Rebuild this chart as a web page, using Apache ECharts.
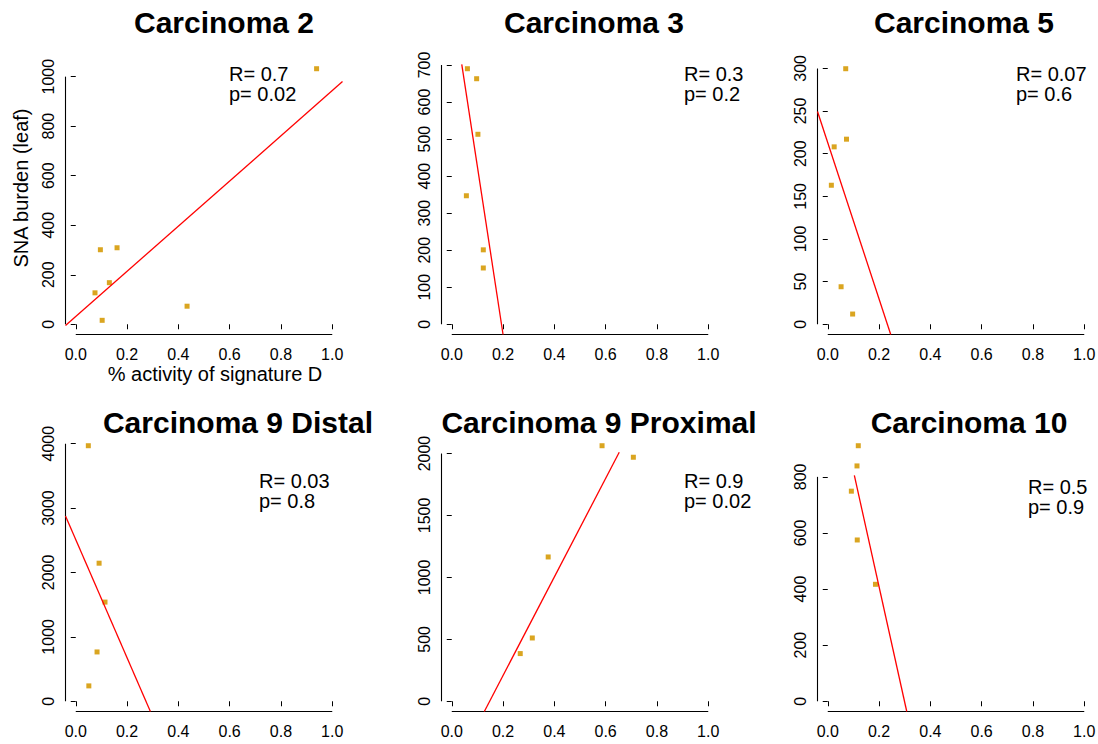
<!DOCTYPE html>
<html>
<head>
<meta charset="utf-8">
<script src="https://cdn.jsdelivr.net/npm/echarts@6/dist/echarts.min.js"></script>
<style>
  html, body { margin: 0; padding: 0; background: #fff; }
  #chart { width: 1098px; height: 744px; }
</style>
</head>
<body>
<div id="chart"></div>
<script>
// ---------------- data ----------------
const panelTitles = ['Carcinoma 2', 'Carcinoma 3', 'Carcinoma 5',
                     'Carcinoma 9 Distal', 'Carcinoma 9 Proximal', 'Carcinoma 10'];

// % activity of signature D (x) and SNA burden (leaf) (y) per sample
const carc2Activity = [0.939, 0.096, 0.161, 0.131, 0.075, 0.103, 0.434];
const carc2Burden   = [1032, 301, 309, 168, 127, 16, 73];

const carc3Activity = [0.061, 0.097, 0.102, 0.057, 0.123, 0.123];
const carc3Burden   = [690, 663, 513, 347, 201, 152];

const carc5Activity = [0.070, 0.073, 0.025, 0.014, 0.052, 0.097];
const carc5Burden   = [299.6, 217, 208, 163, 44, 12];

const carc9dActivity = [0.049, 0.091, 0.114, 0.083, 0.051];
const carc9dBurden   = [3968, 2144, 1540, 766, 239];

const carc9pActivity = [0.586, 0.708, 0.376, 0.314, 0.267];
const carc9pBurden   = [2063, 1970, 1165, 511, 385];

const carc10Activity = [0.119, 0.114, 0.092, 0.115, 0.186];
const carc10Burden   = [911, 839, 749, 575, 417];

// fitted lines: two end points [activity, burden] each, as drawn
const fitLines = [
  [[-0.04, -5],   [1.04, 980]],
  [[0.039, 702],  [0.2, -27.6]],
  [[-0.04, 249.5],[0.2455, -12]],
  [[-0.04, 2876], [0.291, -158.6]],
  [[0.127, -82.4],[0.653, 2010]],
  [[0.1037, 805], [0.308, -36.4]]
];

const corrR = ['0.7', '0.3', '0.07', '0.03', '0.9', '0.5'];
const corrP = ['0.02', '0.2', '0.6', '0.8', '0.02', '0.9'];

const xTickValues = [0, 0.2, 0.4, 0.6, 0.8, 1.0];
const yTickValues = [
  [0, 200, 400, 600, 800, 1000],
  [0, 100, 200, 300, 400, 500, 600, 700],
  [0, 50, 100, 150, 200, 250, 300],
  [0, 1000, 2000, 3000, 4000],
  [0, 500, 1000, 1500, 2000],
  [0, 200, 400, 600, 800]
];

const xAxisTitle = '% activity of signature D';
const yAxisTitle = 'SNA burden (leaf)';

// ---------------- layout / style ----------------
const FONT = '"Liberation Sans", Arial, Helvetica, sans-serif';
const colLeft = [65.5, 441.5, 817.5];
const rowTop = [58.5, 435.5];
const plotW = 277, plotH = 276;
const titleCenterX = [224, 594, 964, 238, 599, 969];
const titleCenterY = [22, 422];
const statPos = [[229, 74], [684, 74], [1016, 74], [259, 481], [684, 481], [1028, 487]];
const POINT_COLOR = '#DAA520';

const panelXs = [carc2Activity, carc3Activity, carc5Activity, carc9dActivity, carc9pActivity, carc10Activity];
const panelYs = [carc2Burden, carc3Burden, carc5Burden, carc9dBurden, carc9pBurden, carc10Burden];

const grids = [], xAxes = [], yAxes = [], series = [], graphics = [];

panelTitles.forEach((title, i) => {
  const col = i % 3, row = Math.floor(i / 3);
  const xs = panelXs[i], ys = panelYs[i];
  const yMaxData = Math.max(...ys);
  const yLo = -0.04 * yMaxData, yHi = 1.04 * yMaxData;
  const xLo = -0.04, xHi = 1.04;
  const yt = yTickValues[i];

  grids.push({ left: colLeft[col], top: rowTop[row], width: plotW, height: plotH,
               outerBoundsMode: 'none', containLabel: false });

  xAxes.push({
    gridIndex: i, type: 'value', min: xLo, max: xHi,
    axisLine: { show: false },
    splitLine: { show: false },
    axisTick: { show: true, length: 5, customValues: xTickValues,
                lineStyle: { color: '#000', width: 1 } },
    axisLabel: { customValues: xTickValues, formatter: v => v.toFixed(1),
                 fontSize: 16, color: '#000', fontFamily: FONT, margin: 12 }
  });

  yAxes.push({
    gridIndex: i, type: 'value', min: yLo, max: yHi,
    axisLine: { show: false },
    splitLine: { show: false },
    axisTick: { show: true, length: 5, customValues: yt,
                lineStyle: { color: '#000', width: 1 } },
    axisLabel: { customValues: yt, formatter: v => String(v), rotate: 90,
                 fontSize: 16, color: '#000', fontFamily: FONT, margin: 9.5 }
  });

  // axis lines spanning first to last tick (R style)
  series.push({
    type: 'line', xAxisIndex: i, yAxisIndex: i, silent: true, clip: false,
    symbol: 'none', lineStyle: { color: '#000', width: 1.1 },
    data: [[xTickValues[0], yLo], [xTickValues[xTickValues.length - 1], yLo]]
  });
  series.push({
    type: 'line', xAxisIndex: i, yAxisIndex: i, silent: true, clip: false,
    symbol: 'none', lineStyle: { color: '#000', width: 1.1 },
    data: [[xLo, yt[0]], [xLo, yt[yt.length - 1]]]
  });

  // fitted line
  series.push({
    type: 'line', xAxisIndex: i, yAxisIndex: i, silent: true, clip: true,
    symbol: 'none', lineStyle: { color: '#FF0000', width: 1.3 },
    data: fitLines[i]
  });

  // points
  series.push({
    type: 'scatter', xAxisIndex: i, yAxisIndex: i, silent: true,
    symbol: 'rect', symbolSize: 5,
    itemStyle: { color: POINT_COLOR, opacity: 1 },
    data: xs.map((x, k) => [x, ys[k]])
  });

  // panel title
  graphics.push({
    type: 'text', x: titleCenterX[i], y: titleCenterY[row],
    style: { text: title, fill: '#000', fontSize: 30, fontWeight: 'bold',
             fontFamily: FONT, textAlign: 'center', textVerticalAlign: 'middle' }
  });

  // R / p annotation
  graphics.push({
    type: 'text', x: statPos[i][0], y: statPos[i][1],
    style: { text: 'R= ' + corrR[i], fill: '#000', fontSize: 20, fontFamily: FONT,
             textAlign: 'left', textVerticalAlign: 'middle' }
  });
  graphics.push({
    type: 'text', x: statPos[i][0], y: statPos[i][1] + 20,
    style: { text: 'p= ' + corrP[i], fill: '#000', fontSize: 20, fontFamily: FONT,
             textAlign: 'left', textVerticalAlign: 'middle' }
  });
});

// axis titles (first panel only)
graphics.push({
  type: 'text', x: 215, y: 374,
  style: { text: xAxisTitle, fill: '#000', fontSize: 20, fontFamily: FONT,
           textAlign: 'center', textVerticalAlign: 'middle' }
});
graphics.push({
  type: 'text', x: 21.3, y: 188, rotation: Math.PI / 2,
  style: { text: yAxisTitle, fill: '#000', fontSize: 20, fontFamily: FONT,
           textAlign: 'center', textVerticalAlign: 'middle' }
});

const chart = echarts.init(document.getElementById('chart'), null, { renderer: 'svg' });
chart.setOption({
  animation: false,
  backgroundColor: '#fff',
  grid: grids,
  xAxis: xAxes,
  yAxis: yAxes,
  series: series,
  graphic: graphics
});
</script>
</body>
</html>
